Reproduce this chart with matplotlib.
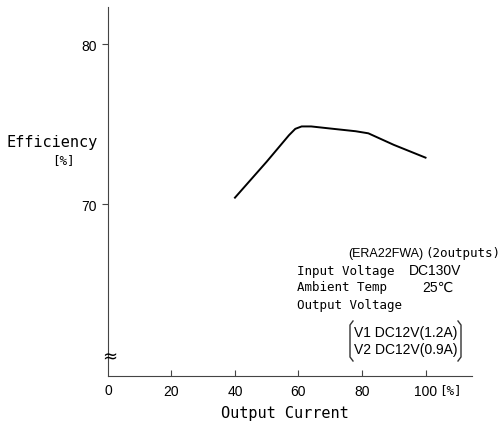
import matplotlib
matplotlib.use('Agg')
import matplotlib.pyplot as plt
from matplotlib.lines import Line2D

# Efficiency curve
load = [40, 50, 57, 59, 61, 64, 70, 78, 82, 90, 100]
efficiency = [70.4, 72.65, 74.3, 74.7, 74.85, 74.85, 74.72, 74.55, 74.42, 73.7, 72.9]

xticks = [20, 40, 60, 80, 100]
xlabels = ['20', '40', '60', '80', '100']
yticks = [70, 80]

narrow = ['Liberation Sans', 'DejaVu Sans']
mono = ['DejaVu Sans Mono', 'DejaVu Sans']

fig = plt.figure(figsize=(5.02, 4.31), dpi=100)
ax = fig.add_axes([0.215, 0.125, 0.725, 0.856])

ax.plot(load, efficiency, color='black', lw=1.4)

ax.set_xlim(0, 114.6)
ax.set_ylim(59.25, 82.3)
ax.spines['top'].set_visible(False)
ax.spines['right'].set_visible(False)
ax.spines['left'].set_color('#444444')
ax.spines['bottom'].set_color('#444444')

ax.set_xticks(xticks)
ax.set_xticklabels(xlabels, family=narrow, fontsize=10)
ax.tick_params(axis='x', direction='in', length=4, color='#444444', pad=6)
ax.set_yticks(yticks)
ax.set_yticklabels([str(v) for v in yticks], family=narrow, fontsize=10)
ax.tick_params(axis='y', direction='out', length=4, color='#444444', pad=4)

# 0 label and unit on x axis
fig.text(108 / 502, 1 - 391 / 431, '0', family=narrow, fontsize=10, ha='center', va='center')
fig.text(450 / 502, 1 - 391 / 431, '[%]', family=mono, fontsize=9, ha='center', va='center')
# axis break mark
fig.text(110 / 502, 1 - 357 / 431, '\u2248', family='DejaVu Sans', fontsize=13, ha='center', va='center')

fig.text(52 / 502, 1 - 143 / 431, 'Efficiency', family=mono, fontsize=11, ha='center', va='center')
fig.text(63 / 502, 1 - 161 / 431, '[%]', family=mono, fontsize=9, ha='center', va='center')
fig.text(285 / 502, 1 - 414 / 431, 'Output Current', family=mono, fontsize=11, ha='center', va='center')

# condition block
fs = 10
mfs = 9
fig.text(348 / 502, 1 - 254 / 431, '(ERA22FWA)', family=narrow, fontsize=9, va='center')
fig.text(500 / 502, 1 - 254 / 431, '(2outputs)', family=mono, fontsize=mfs, va='center', ha='right')
fig.text(297 / 502, 1 - 271 / 431, 'Input Voltage', family=mono, fontsize=mfs, va='center')
fig.text(409 / 502, 1 - 271 / 431, 'DC130V', family=narrow, fontsize=fs, va='center')
fig.text(297 / 502, 1 - 288 / 431, 'Ambient Temp', family=mono, fontsize=mfs, va='center')
fig.text(422 / 502, 1 - 288 / 431, '25\u2103', family=narrow, fontsize=fs, va='center')
fig.text(297 / 502, 1 - 305 / 431, 'Output Voltage', family=mono, fontsize=mfs, va='center')
fig.text(354 / 502, 1 - 333 / 431, 'V1 DC12V(1.2A)', family=narrow, fontsize=fs, va='center')
fig.text(354 / 502, 1 - 350 / 431, 'V2 DC12V(0.9A)', family=narrow, fontsize=fs, va='center')

# brackets around output list
def px(x, y):
    return x / 502, 1 - y / 431

for side in (-1, 1):
    xc = 350 if side < 0 else 461
    xs = [xc - side * 3, xc, xc, xc - side * 3]
    ys = [322, 326, 358, 362]
    pts = [px(a, b) for a, b in zip(xs, ys)]
    fig.add_artist(Line2D([p[0] for p in pts], [p[1] for p in pts],
                          transform=fig.transFigure, color='#333333', lw=1))

fig.savefig('out.png', dpi=100)
